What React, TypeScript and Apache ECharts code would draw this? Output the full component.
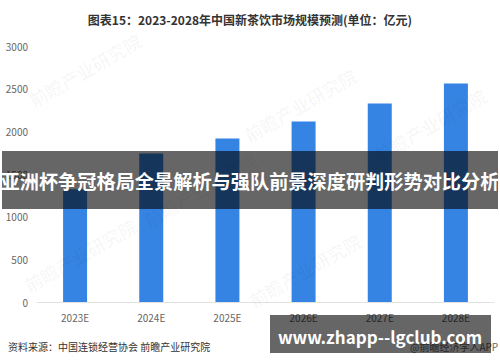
import React, { useEffect, useRef } from "react";
import * as echarts from "echarts";

const categories = ["2023E", "2024E", "2025E", "2026E", "2027E", "2028E"];
const marketSize = [1320, 1740, 1915, 2115, 2325, 2560];
const yTicks = { min: 0, max: 3000, interval: 500 };
const titleText = "图表15：2023-2028年中国新茶饮市场规模预测(单位：亿元)";
const sourceText = "资料来源：中国连锁经营协会 前瞻产业研究院";
const bannerText = "亚洲杯争冠格局全景解析与强队前景深度研判形势对比分析";
const siteText = "www.zhapp--lgclub.com";
const appText = "@前瞻经济学人APP";
const watermarkText = "前瞻产业研究院";
const watermarkSpots = [
  [85, 70],
  [300, 105],
  [430, 125],
  [80, 255],
  [305, 270],
  [200, 190],
];

const FONT = "'Noto Sans CJK SC', 'Noto Sans', sans-serif";

export default function App() {
  const ref = useRef<HTMLDivElement>(null);
  useEffect(() => {
    if (!ref.current) return;
    const chart = echarts.init(ref.current, undefined, { renderer: "svg" });
    const watermarks = watermarkSpots.map(([x, y]) => ({
      type: "text",
      x,
      y,
      rotation: Math.PI / 6,
      z: 5,
      style: {
        text: watermarkText,
        fill: "rgba(0,0,0,0.035)",
        font: `bold 18px ${FONT}`,
        textAlign: "center",
        textVerticalAlign: "middle",
      },
    }));
    chart.setOption({
      animation: false,
      backgroundColor: "#ffffff",
      textStyle: { fontFamily: FONT },
      title: {
        text: titleText,
        left: "center",
        top: 8,
        textStyle: { fontSize: 12, fontWeight: "bold", color: "#333", fontFamily: FONT },
      },
      grid: { left: 37, right: 6, top: 46, bottom: 60, containLabel: false },
      xAxis: {
        type: "category",
        data: categories,
        axisLine: { show: true, lineStyle: { color: "#e3e3e3", width: 1 } },
        axisTick: { show: false },
        axisLabel: { color: "#666", fontSize: 10, margin: 10, fontFamily: FONT },
      },
      yAxis: {
        type: "value",
        min: yTicks.min,
        max: yTicks.max,
        interval: yTicks.interval,
        axisLine: { show: false },
        axisTick: { show: false },
        splitLine: { show: false },
        axisLabel: {
          color: "#666",
          fontSize: 10,
          margin: 9,
          fontFamily: FONT,
          formatter: (v: number) => String(v),
        },
      },
      series: [
        {
          type: "bar",
          data: marketSize,
          barWidth: 24,
          itemStyle: { color: "#3584e4" },
          z: 2,
        },
      ],
      graphic: [
        ...watermarks,
        {
          type: "text",
          left: 8,
          top: 341,
          z: 20,
          style: { text: sourceText, fill: "#333", font: `10px ${FONT}` },
        },
        {
          type: "text",
          left: 410,
          top: 341,
          z: 90,
          style: { text: appText, fill: "#666", font: `10px ${FONT}` },
        },
        {
          type: "rect",
          shape: { x: 2, y: 151, width: 496, height: 58 },
          z: 100,
          style: { fill: "rgba(0,0,0,0.6)" },
        },
        {
          type: "text",
          x: 250,
          y: 181,
          z: 110,
          style: {
            text: bannerText,
            fill: "#ffffff",
            font: `bold 19.2px ${FONT}`,
            textAlign: "center",
            textVerticalAlign: "middle",
          },
        },
        {
          type: "rect",
          shape: { x: 270, y: 315, width: 221, height: 38 },
          z: 100,
          style: { fill: "rgba(0,0,0,0.6)" },
        },
        {
          type: "text",
          x: 380,
          y: 336,
          z: 110,
          style: {
            text: siteText,
            fill: "#ffffff",
            font: `bold 17px ${FONT}`,
            textAlign: "center",
            textVerticalAlign: "middle",
          },
        },
      ],
    });
    return () => chart.dispose();
  }, []);
  return (
    <div
      ref={ref}
      style={{ position: "fixed", left: 0, top: 0, width: 500, height: 362 }}
    />
  );
}
